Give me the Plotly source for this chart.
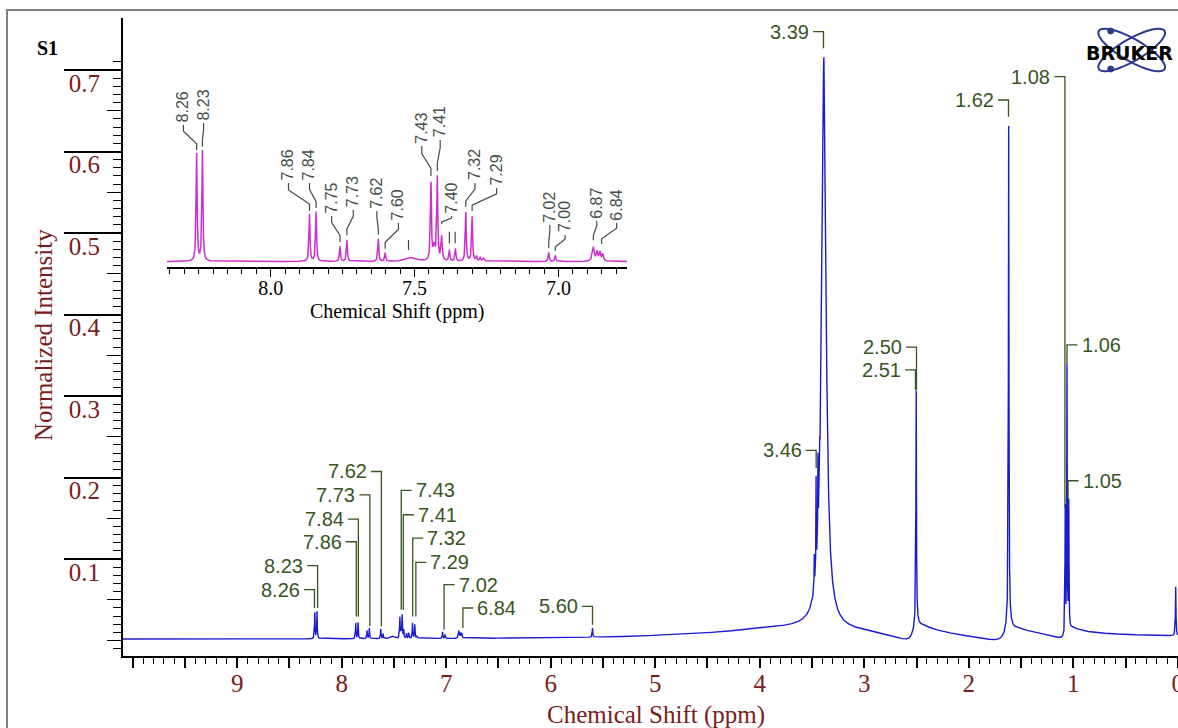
import numpy as np
import plotly.graph_objects as go

# ---------------- data ----------------
# main 1H spectrum: peak table (ppm, height in normalized intensity, half width)
main_peak_ppm = [8.257, 8.236, 7.865, 7.843, 7.757, 7.735, 7.625, 7.603, 7.51,
                 7.443, 7.432, 7.421, 7.406, 7.379, 7.358, 7.322, 7.300, 7.28,
                 7.034, 7.011, 6.879, 6.862, 6.850, 5.60,
                 3.55, 3.386, 3.478, 3.461, 3.443, 3.426,
                 2.503, 2.503, 1.618, 1.618, 1.077, 1.060, 1.043, 0.02]
main_peak_height = [0.032, 0.033, 0.019, 0.020, 0.010, 0.013, 0.012, 0.006, 0.003,
                    0.025, 0.008, 0.028, 0.010, 0.006, 0.007, 0.019, 0.017, 0.003,
                    0.008, 0.005, 0.009, 0.006, 0.006, 0.011,
                    0.017, 0.70, 0.04, 0.115, 0.10, 0.035,
                    0.285, 0.015, 0.605, 0.02, 0.155, 0.325, 0.155, 0.06]
main_peak_hwhm = [0.003, 0.003, 0.003, 0.003, 0.003, 0.003, 0.003, 0.003, 0.02,
                  0.003, 0.004, 0.003, 0.003, 0.003, 0.003, 0.003, 0.003, 0.005,
                  0.003, 0.003, 0.005, 0.004, 0.004, 0.003,
                  1.0, 0.025, 0.002, 0.002, 0.002, 0.002,
                  0.003, 0.03, 0.003, 0.03, 0.0025, 0.0025, 0.0025, 0.003]
main_baseline = 0.002
# phase (dispersive) distortions of the big peaks
disp_ppm = [2.503, 1.618, 1.060]
disp_amp = [0.018, 0.015, 0.013]
disp_width = [0.09, 0.12, 0.06]

# inset (aromatic region), heights in inset units
inset_peak_ppm = [8.257, 8.237, 7.865, 7.842, 7.759, 7.735, 7.626, 7.602, 7.51,
                  7.443, 7.432, 7.421, 7.406, 7.379, 7.358, 7.322, 7.300,
                  7.285, 7.272, 7.26, 7.034, 7.011, 6.879, 6.866, 6.856, 6.846]
inset_peak_height = [107.5, 110.5, 47, 49.5, 15, 21.5, 22.5, 8.5, 4,
                     77, 14, 83, 24, 11, 12.5, 49, 44.5,
                     5, 4, 3, 9, 6, 14, 9, 9, 7]
inset_peak_hwhm = [0.002, 0.002, 0.002, 0.002, 0.002, 0.002, 0.002, 0.002, 0.02,
                   0.002, 0.004, 0.002, 0.0025, 0.002, 0.002, 0.002, 0.002,
                   0.002, 0.002, 0.003, 0.002, 0.002, 0.004, 0.003, 0.003, 0.003]

# main peak labels
main_labels = ['8.26', '8.23', '7.86', '7.84', '7.73', '7.62', '7.43', '7.41', '7.32',
               '7.29', '7.02', '6.84', '5.60', '3.46', '3.39', '2.50', '2.51', '1.62',
               '1.08', '1.06', '1.05']
main_label_y = [0.0624, 0.0918, 0.1212, 0.149, 0.1788, 0.2074, 0.1841, 0.1543, 0.1257,
                0.0958, 0.0685, 0.0399, 0.0419, 0.2332, 0.747, 0.36, 0.3321, 0.6632,
                0.6918, 0.3628, 0.196]
main_label_end = [0.0399, 0.0399, 0.0296, 0.0296, 0.0174, 0.0174, 0.0378, 0.0378, 0.0296,
                  0.0296, 0.0133, 0.0154, 0.0194, 0.2116, 0.7266, 0.3076, 0.3076, 0.6427,
                  0.1629, 0.3403, 0.1727]
main_label_side = ['L', 'L', 'L', 'L', 'L', 'L', 'R', 'R', 'R', 'R', 'R', 'R',
                   'L', 'L', 'L', 'L', 'L', 'L', 'L', 'R', 'R']

# inset peak labels
inset_labels = ['8.26', '8.23', '7.86', '7.84', '7.75', '7.73', '7.62', '7.60', '7.43',
                '7.41', '7.40', '7.32', '7.29', '7.02', '7.00', '6.87', '6.84']
inset_label_ppm = [8.303, 8.233, 7.938, 7.865, 7.788, 7.713, 7.631, 7.556, 7.475,
                   7.411, 7.371, 7.290, 7.215, 7.030, 6.977, 6.867, 6.798]
inset_label_base = [139.5, 141.5, 81.5, 81.5, 48.5, 54.5, 53.5, 41.5, 118.5,
                    124.5, 48.5, 81.5, 76.5, 39.5, 29.5, 43.5, 41.5]
inset_peak_ref = [8.257, 8.237, 7.865, 7.842, 7.759, 7.735, 7.626, 7.602, 7.443,
                  7.421, 7.406, 7.322, 7.300, 7.034, 7.011, 6.879, 6.850]
inset_conn_end = [111.5, 114.8, 50.5, 53.5, 19.5, 26.2, 26.8, 12.8, 85.5,
                  90.5, 37.5, 54.5, 50.5, 13.2, 10.5, 21.2, 17.5]
inset_tick_ppm = [7.521, 7.379, 7.359]
inset_tick_top = [21.5, 29.8, 29.8]
inset_tick_bottom = [11.5, 18.2, 18.2]

# ---------------- styling ----------------
RED = '#7b1c1c'
GREEN = '#37561f'
IGREEN = '#3f4f47'
BLUE = '#1a1ad0'
MAGENTA = '#cc2fcc'
SERIF = 'Liberation Serif'
SANS = 'Liberation Sans'

W, H = 1178, 728
L, R, T, B = 123, 0, 18, 72
PW, PH = W - L - R, H - T - B


def px2paper(x, y):
    return (x - L) / PW, (H - B - y) / PH


# ---------------- spectra ----------------
ppm = np.arange(-0.01, 10.1, 0.0004)
spec = np.full_like(ppm, main_baseline)
for p0, h, g in zip(main_peak_ppm, main_peak_height, main_peak_hwhm):
    spec += h / (1 + ((ppm - p0) / g) ** 2)
for p0, a, g in zip(disp_ppm, disp_amp, disp_width):
    u = (ppm - p0) / g
    spec -= a * u / (1 + u ** 2)

ppm_i = np.arange(6.762, 8.36, 0.0002)
spec_i = np.zeros_like(ppm_i)
for p0, h, g in zip(inset_peak_ppm, inset_peak_height, inset_peak_hwhm):
    spec_i += h / (1 + ((ppm_i - p0) / g) ** 2)

fig = go.Figure()
fig.add_trace(go.Scatter(x=ppm, y=spec, mode='lines', line=dict(color=BLUE, width=1.4),
                         hoverinfo='skip', showlegend=False))
fig.add_trace(go.Scatter(x=[None], y=[None], yaxis='y3', showlegend=False, hoverinfo='skip'))
fig.add_trace(go.Scatter(x=ppm_i, y=spec_i, xaxis='x2', yaxis='y2', mode='lines',
                         line=dict(color=MAGENTA, width=1.5), hoverinfo='skip', showlegend=False))

# main label connectors
cx, cy = [], []
annotations = []
for txt, ly, le, side in zip(main_labels, main_label_y, main_label_end, main_label_side):
    p = float(txt)
    sgn = 1 if side == 'L' else -1
    cx += [p + sgn * 0.10, p, p, None]
    cy += [ly, ly, le, None]
    annotations.append(dict(x=p + sgn * 0.12, y=ly, xref='x', yref='y', text=txt,
                            showarrow=False, xanchor='right' if side == 'L' else 'left',
                            yanchor='middle', font=dict(family=SANS, size=20, color=GREEN)))
fig.add_trace(go.Scatter(x=cx, y=cy, mode='lines', line=dict(color=GREEN, width=1.3),
                         hoverinfo='skip', showlegend=False))

# inset label connectors
ix, iy = [], []
for txt, lp, base, pp, end in zip(inset_labels, inset_label_ppm, inset_label_base,
                                   inset_peak_ref, inset_conn_end):
    top = base - 3
    span = top - end
    ix += [lp, lp, pp, pp, None]
    iy += [top, top - 0.25 * span, end + 0.25 * span, end, None]
    annotations.append(dict(x=lp, y=base + 15, xref='x2', yref='y2', text=txt,
                            showarrow=False, textangle=-90, xanchor='center', yanchor='middle',
                            font=dict(family=SANS, size=16, color=IGREEN)))
for tp, t1, t0 in zip(inset_tick_ppm, inset_tick_top, inset_tick_bottom):
    ix += [tp, tp, None]
    iy += [t1, t0, None]
fig.add_trace(go.Scatter(x=ix, y=iy, xaxis='x2', yaxis='y2', mode='lines',
                         line=dict(color=IGREEN, width=1.2), hoverinfo='skip', showlegend=False))

# ---------------- axes ----------------
x_major = [round(v, 1) for v in np.arange(0, 10.01, 0.5)]
x_text = [str(int(v)) if (v == int(v) and v < 10) else '' for v in x_major]
x_minor = [round(v, 1) for v in np.arange(0, 10.01, 0.1) if abs(v * 2 - round(v * 2)) > 1e-6]
y_major = [0.1, 0.2, 0.3, 0.4, 0.5, 0.6, 0.7]
y_medium = [round(v, 2) for v in np.arange(0.0, 0.7, 0.1)] + [round(v, 2) for v in np.arange(0.05, 0.7, 0.1)]
y_minor = [round(v, 2) for v in np.arange(-0.01, 0.715, 0.01)
           if round(v * 100) % 5 != 0]
i_minor = [round(v, 2) for v in np.arange(6.8, 8.36, 0.05) if round(v * 100) % 50 != 0]

yr = [-0.019, 0.7638]
fig.update_layout(
    width=W, height=H, margin=dict(l=L, r=R, t=T, b=B, autoexpand=False),
    paper_bgcolor='white', plot_bgcolor='rgba(0,0,0,0)', hovermode=False,
    xaxis=dict(domain=[0, 1], range=[10.092, -0.002], anchor='y', showline=True,
               automargin=False, ticklabeloverflow='allow',
               linecolor='black', linewidth=2, ticks='outside', tickmode='array',
               tickvals=x_major, ticktext=x_text, ticklen=10, tickwidth=1.5, tickcolor='black',
               ticklabelstandoff=-6,
               tickfont=dict(family=SERIF, size=25, color=RED), showgrid=False, zeroline=False,
               minor=dict(tickmode='array', tickvals=x_minor, ticklen=6, tickwidth=1.2,
                          tickcolor='black', ticks='outside', showgrid=False)),
    yaxis=dict(domain=[0, 1], range=yr, anchor='x', showline=True, linecolor='black',
               automargin=False,
               linewidth=2, ticks='outside', tickmode='array', tickvals=y_major,
               ticktext=[f'{v:.1f}' for v in y_major], ticklen=57, tickwidth=1.5,
               tickcolor='black', ticklabelshift=13, ticklabelstandoff=-41,
               tickfont=dict(family=SERIF, size=25, color=RED), showgrid=False, zeroline=False,
               minor=dict(tickmode='array', tickvals=y_minor, ticklen=8, tickwidth=1.2,
                          tickcolor='black', ticks='outside', showgrid=False)),
    yaxis3=dict(overlaying='y', anchor='x', side='left', range=yr, tickmode='array',
                automargin=False,
                tickvals=y_medium, ticks='outside', ticklen=15, tickwidth=1.3, tickcolor='black',
                showticklabels=False, showline=False, showgrid=False, zeroline=False),
    xaxis2=dict(domain=[(167 - L) / PW, (627 - L) / PW], range=[8.36, 6.762], anchor='y2',
                automargin=False,
                showline=True, linecolor='black', linewidth=1.5, ticks='outside',
                tickmode='array', tickvals=[8.0, 7.5, 7.0], ticktext=['8.0', '7.5', '7.0'],
                ticklen=8, tickwidth=1.3, tickcolor='black', ticklabelstandoff=-6,
                tickfont=dict(family=SERIF, size=20, color='black'), showgrid=False,
                zeroline=False,
                minor=dict(tickmode='array', tickvals=i_minor, ticklen=5, tickwidth=1.1,
                           tickcolor='black', ticks='outside', showgrid=False)),
    yaxis2=dict(domain=[(H - B - 267.3) / PH, (H - B - 80) / PH], range=[-5.8, 181.5],
                anchor='x2', visible=False, automargin=False),
)

# titles and decorations
tx, ty = px2paper(43, 335)
annotations.append(dict(x=tx, y=ty, xref='paper', yref='paper', text='Normalized Intensity',
                        textangle=-90, showarrow=False, xanchor='center', yanchor='middle',
                        font=dict(family=SERIF, size=25, color=RED)))
tx, ty = px2paper(656, 715)
annotations.append(dict(x=tx, y=ty, xref='paper', yref='paper', text='Chemical Shift (ppm)',
                        showarrow=False, xanchor='center', yanchor='middle',
                        font=dict(family=SERIF, size=25, color=RED)))
tx, ty = px2paper(397, 311.5)
annotations.append(dict(x=tx, y=ty, xref='paper', yref='paper', text='Chemical Shift (ppm)',
                        showarrow=False, xanchor='center', yanchor='middle',
                        font=dict(family=SERIF, size=20, color='black')))
tx, ty = px2paper(47, 47.5)
annotations.append(dict(x=tx, y=ty, xref='paper', yref='paper', text='<b>S1</b>',
                        showarrow=False, xanchor='center', yanchor='middle',
                        font=dict(family=SERIF, size=20, color='black')))
tx, ty = px2paper(1129, 53.5)
annotations.append(dict(x=tx, y=ty, xref='paper', yref='paper', text='<b>BRUKER</b>',
                        showarrow=False, xanchor='center', yanchor='middle',
                        font=dict(family='DejaVu Sans', size=19, color='black')))
fig.update_layout(annotations=annotations)

shapes = []
fx0, fy1 = px2paper(7, 10)
fx1, fy0 = px2paper(1200, 760)
shapes.append(dict(type='rect', xref='paper', yref='paper', x0=fx0, x1=fx1, y0=fy0, y1=fy1,
                   line=dict(color='#7f7f7f', width=2), layer='below'))
# Bruker logo: two crossing orbits
lx, ly = px2paper(1131.7, 50)
t = np.linspace(0, 2 * np.pi, 73)
for th in (np.radians(30), np.radians(-30)):
    ex = 38 * np.cos(t) * np.cos(th) - 11 * np.sin(t) * np.sin(th)
    ey = 38 * np.cos(t) * np.sin(th) + 11 * np.sin(t) * np.cos(th)
    path = 'M ' + ' L '.join(f'{a:.2f},{b:.2f}' for a, b in zip(ex, ey)) + ' Z'
    shapes.append(dict(type='path', xref='paper', yref='paper', xsizemode='pixel',
                       ysizemode='pixel', xanchor=lx, yanchor=ly, path=path,
                       line=dict(color='#2b3990', width=2)))
for dy in (19, -19):
    shapes.append(dict(type='circle', xref='paper', yref='paper', xsizemode='pixel',
                       ysizemode='pixel', xanchor=lx, yanchor=ly, x0=-24, x1=-18,
                       y0=dy - 3, y1=dy + 3, fillcolor='#2b3990',
                       line=dict(color='#2b3990', width=1)))
fig.update_layout(shapes=shapes)

fig.write_html('out.html', config={'displayModeBar': False},
               post_script="document.body.style.margin='0';document.body.style.overflow='hidden';")
